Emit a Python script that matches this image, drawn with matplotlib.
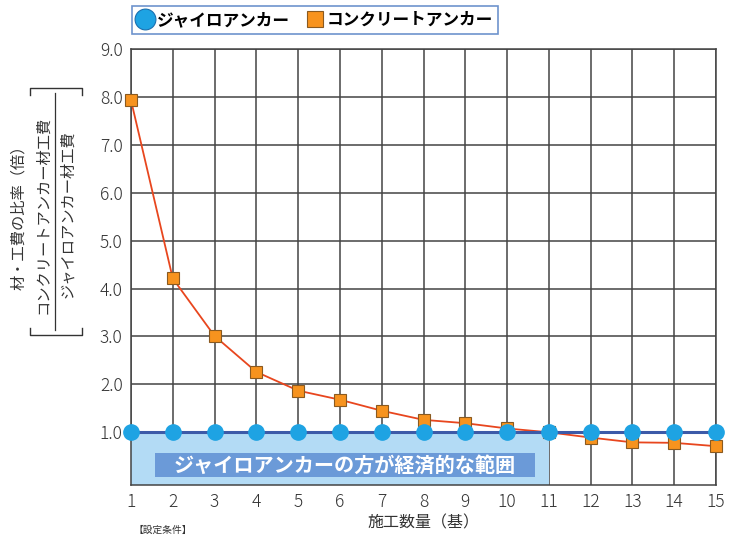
import matplotlib
matplotlib.use('Agg')
import matplotlib.pyplot as plt
from matplotlib.patches import Rectangle
from matplotlib.lines import Line2D

plt.rcParams['font.family'] = ['Noto Sans CJK JP', 'DejaVu Sans']

# data
quantity = list(range(1, 16))
gyro_ratio = [1.0] * 15
concrete_ratio = [7.93, 4.21, 3.01, 2.26, 1.87, 1.68, 1.45, 1.26, 1.19, 1.08,
                  1.0, 0.89, 0.79, 0.78, 0.71]
ytick_vals = [1, 2, 3, 4, 5, 6, 7, 8, 9]
ytick_labels = ['1.0', '2.0', '3.0', '4.0', '5.0', '6.0', '7.0', '8.0', '9.0']
econ_limit = 11

fig = plt.figure(figsize=(7.3, 5.35), dpi=100)
ax = fig.add_axes([131/730, 1-485/535, (716-131)/730, (485-49)/535])

ax.set_xlim(1, 15)
ax.set_ylim(-0.1, 9)
ax.set_xticks(quantity)
ax.set_yticks(ytick_vals)
ax.set_yticklabels(ytick_labels)
ax.tick_params(length=0, labelsize=12.5, labelcolor='#333333', pad=6)
for lab in ax.get_xticklabels() + ax.get_yticklabels():
    lab.set_fontweight('light')
ax.grid(True, color='#444444', lw=1.1)
ax.set_axisbelow(True)
for s in ax.spines.values():
    s.set_color('#444444')
    s.set_linewidth(1.1)

# economical region shading
ax.add_patch(Rectangle((1, -0.1), econ_limit - 1, 1.1, facecolor='#b3dbf5',
                       edgecolor='none', zorder=1.5))
ax.add_patch(Rectangle((1.57, 0.07), 9.1, 0.5, facecolor='#6b9ad8',
                       edgecolor='none', zorder=1.6))
ax.text(6.12, 0.32, 'ジャイロアンカーの方が経済的な範囲', color='white',
        fontsize=14.5, fontweight='bold', ha='center', va='center', zorder=1.7)

ax.plot(quantity, concrete_ratio, color='#e8461e', lw=1.3, zorder=3,
        marker='s', ms=9, mfc='#f7931e', mec='#8a5a20', mew=0.8, clip_on=False)
ax.plot(quantity, gyro_ratio, color='#3c5aa8', lw=2.2, zorder=4,
        marker='o', ms=11, mfc='#1ea3e3', mec='#1ea3e3', clip_on=False)

ax.set_xlabel('施工数量（基）', fontsize=11.5, color='#333333', labelpad=2)

# y label with fraction in brackets
fig.text(19/730, 1-214/535, '材・工費の比率（倍）', rotation=90, fontsize=11,
         color='#333333', ha='center', va='center')
fig.text(43/730, 1-215/535, 'コンクリートアンカー材工費', rotation=90, fontsize=11,
         color='#333333', ha='center', va='center')
fig.text(68/730, 1-214/535, 'ジャイロアンカー材工費', rotation=90, fontsize=11,
         color='#333333', ha='center', va='center')
fig.add_artist(Line2D([55/730, 55/730], [1-93/535, 1-330/535], color='#333333', lw=0.9))
fig.add_artist(Line2D([30/730, 30/730, 82/730, 82/730],
                      [1-95/535, 1-88/535, 1-88/535, 1-95/535], color='#333333', lw=1.0))
fig.add_artist(Line2D([30/730, 30/730, 82/730, 82/730],
                      [1-328/535, 1-335/535, 1-335/535, 1-328/535], color='#333333', lw=1.0))

fig.text(133/730, 1-530/535, '【設定条件】', fontsize=7, color='#333333', ha='left', va='center')

# legend
handles = [
    Line2D([], [], ls='none', marker='o', ms=15, mfc='#1ea3e3', mec='#1a70b0', mew=0.8),
    Line2D([], [], ls='none', marker='s', ms=12, mfc='#f7931e', mec='#8a5a20', mew=0.8),
]
leg = fig.legend(handles, ['ジャイロアンカー', 'コンクリートアンカー'], loc='upper left',
                 bbox_to_anchor=(132/730, 1-6/535), borderaxespad=0, ncol=2,
                 frameon=True, fancybox=False,
                 prop={'size': 12, 'weight': 'bold'}, handlelength=1.0,
                 handletextpad=0.2, columnspacing=1.0, borderpad=0.3)
leg.get_frame().set_edgecolor('#4a78c0')
leg.get_frame().set_linewidth(1.2)

fig.savefig('out.png', dpi=100)
